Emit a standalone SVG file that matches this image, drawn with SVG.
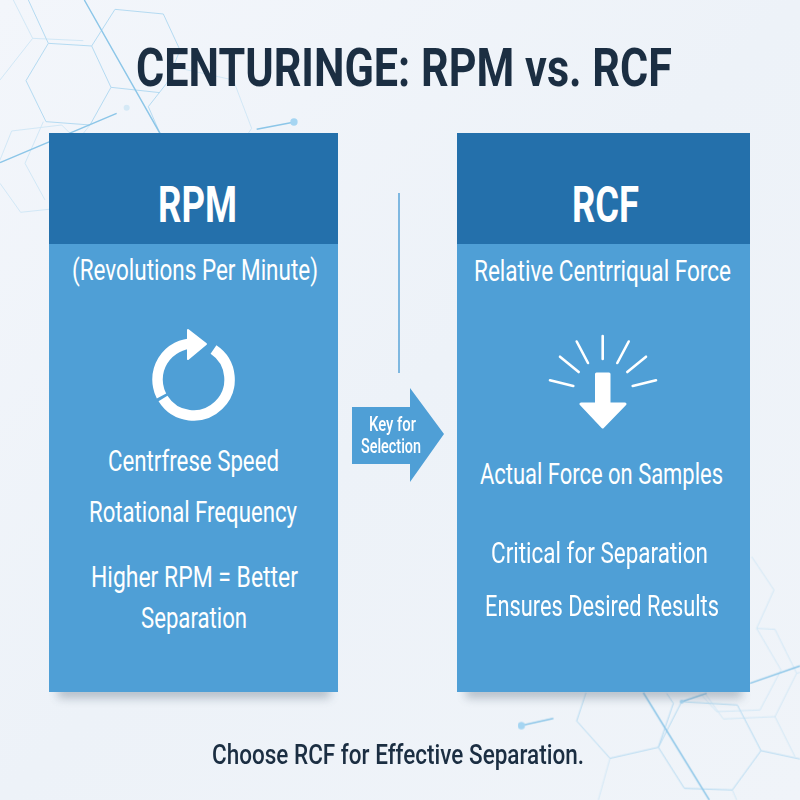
<svg xmlns="http://www.w3.org/2000/svg" width="800" height="800" viewBox="0 0 800 800">
<defs>
<linearGradient id="bg" x1="0" y1="0" x2="1" y2="1"><stop offset="0" stop-color="#f3f6fb"/><stop offset="0.5" stop-color="#edf2f8"/><stop offset="1" stop-color="#f0f4f9"/></linearGradient>
<filter id="soft" x="-20%" y="-100%" width="140%" height="300%"><feGaussianBlur stdDeviation="5"/></filter>
<filter id="lineblur" x="-5%" y="-5%" width="110%" height="110%"><feGaussianBlur stdDeviation="0.3"/></filter>
<style>
text{font-family:"Roboto","Liberation Sans",sans-serif;fill:#fff}
.dark{fill:#1b2e42}
.hd{font-weight:700;font-size:50px}
.sub{font-size:30px}
.bd{font-size:29.5px}
.k{font-size:20px;font-weight:500}
.hex{fill:none;stroke:#b4daf1;stroke-width:3}
.hexf{fill:none;stroke:#cfe6f5;stroke-width:2.800}
.main{fill:none;stroke:#8cc6e8;stroke-width:4.500}
.dot{fill:#a5d5f2}
.panel{fill:#4f9fd6}
.head{fill:#2470ab}
.shadow{fill:#6b7c8c;opacity:.45}
.ray{stroke:#fff;stroke-width:2.600;stroke-linecap:round}
</style>
</defs>
<rect width="800" height="800" fill="url(#bg)"/>
<g id="background-network" filter="url(#lineblur)">
<g transform="scale(.3333)">
<path class="hexf" d="M40 0L98 115L0 240M98 115L250 122M75 490L135 600M0 550L62 637L147 628M0 480L35 393L185 375L210 400M130 365L75 490M270 375L210 450M540 205L700 240L755 385L745 400"/>
<path class="hex" d="M85 0L145 130L275 138L333 262L270 375L138 365L78 242L145 130M275 138L345 28L490 42L540 150L500 250L445 320L480 400M333 262L480 278"/>
<path class="main" d="M253 0L480 400M0 488L350 340M770 388L880 367"/>
<circle class="dot" cx="882" cy="366" r="11"/>
<circle cx="380" cy="323" r="9" fill="#d5e9f6"/>
</g>
<g transform="translate(500 540) scale(.3333)">
<path class="hexf" d="M755 50L822 150L770 265L825 268L890 400L825 530L670 537L615 460M770 265L843 390L780 510L650 515L600 460M825 530L885 650M697 750L710 780M330 655L295 780M890 400L900 397"/>
<path class="hex" d="M500 460L520 490L475 622L330 655L230 543L258 458M475 622L553 745L697 750L783 632L712 495L545 485L475 622M783 632L900 657"/>
<path class="main" d="M430 458L628 780M750 430L900 378M545 485L620 460M62 557L160 535"/>
<circle class="dot" cx="545" cy="485" r="6"/>
<circle class="dot" cx="64" cy="557" r="11"/>
</g>
</g>
<g id="title"><text class="dark" transform="translate(136 86) scale(.92 1)" font-size="54" font-weight="700" textLength="582.600" lengthAdjust="spacingAndGlyphs">CENTURINGE: RPM vs. RCF</text></g>
<g id="rpm-panel">
<rect class="shadow" x="58" y="686" width="272" height="12" filter="url(#soft)"/>
<rect class="panel" x="49" y="133" width="289" height="559"/>
<rect class="head" x="49" y="133" width="289" height="111"/>
<text class="hd" x="158" y="222" textLength="79" lengthAdjust="spacingAndGlyphs">RPM</text>
<text class="sub" x="72" y="280" textLength="246" lengthAdjust="spacingAndGlyphs">(Revolutions Per Minute)</text>
<g id="rotation-icon">
<path d="M193.500 343.500A36 36 0 0 0 161.500 396" fill="none" stroke="#fff" stroke-width="10.500"/>
<path d="M163 398.500A36 36 0 1 0 213.500 349.500" fill="none" stroke="#fff" stroke-width="10.500"/>
<path d="M188 330L206 344L188 359Z" fill="#fff" stroke="#fff" stroke-width="2" stroke-linejoin="round"/>
</g>
<text class="bd" x="108" y="471" textLength="171" lengthAdjust="spacingAndGlyphs">Centrfrese Speed</text>
<text class="bd" x="89" y="522" textLength="208" lengthAdjust="spacingAndGlyphs">Rotational Frequency</text>
<text class="bd" x="91" y="587" textLength="207" lengthAdjust="spacingAndGlyphs">Higher RPM = Better</text>
<text class="bd" x="141" y="628" textLength="106" lengthAdjust="spacingAndGlyphs">Separation</text>
</g>
<g id="rcf-panel">
<rect class="shadow" x="466" y="686" width="276" height="12" filter="url(#soft)"/>
<rect class="panel" x="457" y="133" width="293" height="559"/>
<rect class="head" x="457" y="133" width="293" height="111"/>
<text class="hd" x="572" y="222" textLength="67" lengthAdjust="spacingAndGlyphs">RCF</text>
<text class="sub" transform="translate(474 281) scale(.85 1)" textLength="302.400" lengthAdjust="spacingAndGlyphs">Relative Centrriqual Force</text>
<g id="force-icon">
<path class="ray" d="M602.700 336V359M576.700 341.500L588 363M560 356.700L578.700 372M550 380.300L573.300 386M628.700 341.500L617.300 363M646 356.700L627.300 372M656 380.300L632.700 386"/>
<path d="M596.500 374H609V404H625L602.700 427L581 404H596.500Z" fill="#fff" stroke="#fff" stroke-width="3" stroke-linejoin="round"/>
</g>
<text class="bd" transform="translate(480 484) scale(.85 1)" textLength="285.900" lengthAdjust="spacingAndGlyphs">Actual Force on Samples</text>
<text class="bd" x="491" y="563" textLength="217" lengthAdjust="spacingAndGlyphs">Critical for Separation</text>
<text class="bd" x="485" y="616" textLength="234" lengthAdjust="spacingAndGlyphs">Ensures Desired Results</text>
</g>
<g id="connectors"><path d="M399 193V373" fill="none" stroke="#5aa5d8" stroke-width="1.500"/></g>
<g id="key-arrow">
<path class="panel" d="M352 407H410V388L444 434L410 482V464H352Z"/>
<text class="k" x="369" y="431" textLength="47" lengthAdjust="spacingAndGlyphs">Key for</text>
<text class="k" x="361" y="453" textLength="60" lengthAdjust="spacingAndGlyphs">Selection</text>
</g>
<g id="footer"><text class="dark" x="212" y="764" font-size="27" font-weight="500" textLength="372" lengthAdjust="spacingAndGlyphs">Choose RCF for Effective Separation.</text></g>
</svg>
